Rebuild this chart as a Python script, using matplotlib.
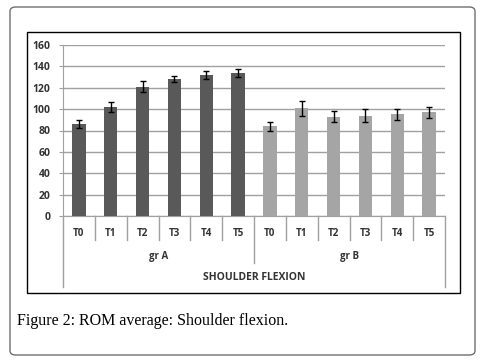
import matplotlib.pyplot as plt
import numpy as np
from matplotlib.patches import FancyBboxPatch, Rectangle

# data
times = ["T0", "T1", "T2", "T3", "T4", "T5"]
groups = ["gr A", "gr B"]
mean_a = [86, 102, 121, 128, 132, 134]
err_a = [4, 5, 5, 3, 4, 4]
mean_b = [84, 101, 93, 94, 95, 97]
err_b = [4, 7, 5, 6, 5, 5]
yticks = [0, 20, 40, 60, 80, 100, 120, 140, 160]

W, H = 482, 360
fig = plt.figure(figsize=(W / 100, H / 100), dpi=100)


def fx(px):
    return px / W


def fy(py):
    return 1 - py / H


# outer rounded frame
fig.patches.append(FancyBboxPatch((fx(10), fy(355)), fx(465), 348 / H,
                                  boxstyle="round,pad=0,rounding_size=0.012",
                                  transform=fig.transFigure, fill=False,
                                  edgecolor="#6e6e6e", linewidth=1.0))
# chart border
fig.patches.append(Rectangle((fx(27), fy(293)), fx(433), 261 / H,
                             transform=fig.transFigure, fill=False,
                             edgecolor="black", linewidth=1.0))

left, right, top, bottom = 63, 445, 45, 216
ax = fig.add_axes([fx(left), fy(bottom), fx(right - left), (bottom - top) / H])

n = len(times)
x_a = np.arange(n)
x_b = np.arange(n) + n
ax.bar(x_a, mean_a, width=0.42, color="#595959", zorder=3)
ax.bar(x_b, mean_b, width=0.42, color="#a5a5a5", zorder=3)
ax.errorbar(x_a, mean_a, yerr=err_a, fmt="none", ecolor="black",
            elinewidth=1, capsize=2.5, capthick=1, zorder=4)
ax.errorbar(x_b, mean_b, yerr=err_b, fmt="none", ecolor="black",
            elinewidth=1, capsize=2.5, capthick=1, zorder=4)

ax.set_xlim(-0.5, 2 * n - 0.5)
ax.set_ylim(0, 160)
ax.set_yticks(yticks)
ax.yaxis.grid(True, color="#a0a0a0", linewidth=1.0, zorder=0)
ax.set_xticks([])
for s in ["top", "right"]:
    ax.spines[s].set_visible(False)
ax.spines["left"].set_color("#a0a0a0")
ax.spines["bottom"].set_color("#a0a0a0")
ax.tick_params(axis="y", length=3, color="#a0a0a0", pad=6,
               labelsize=7.5, labelcolor="#333333")
for lab in ax.get_yticklabels():
    lab.set_fontweight("bold")
    lab.set_family("Open Sans")

sh = bottom - top
tr = ax.get_xaxis_transform()


def ay(py):
    return -(py - bottom) / sh


lc = "#a0a0a0"
font = dict(family="Open Sans", fontweight="bold", color="#333333",
            ha="center", va="center")
# category separators
for i in range(2 * n + 1):
    xb = i - 0.5
    if i == 0 or i == 2 * n:
        y1 = 287
    elif i == n:
        y1 = 263
    else:
        y1 = 240
    ax.plot([xb, xb], [0, ay(y1)], color=lc, lw=1, transform=tr, clip_on=False)

labels = times + times
for i, t in enumerate(labels):
    ax.text(i, ay(233), t, transform=tr, fontsize=7, **font)
for g, name in enumerate(groups):
    ax.text(g * n + (n - 1) / 2, ay(256), name, transform=tr, fontsize=7, **font)
ax.text(n - 0.5, ay(278), "SHOULDER FLEXION", transform=tr, fontsize=7.5, **font)

# caption
fig.text(fx(17), fy(321), "Figure 2: ROM average: Shoulder flexion.",
         family="Liberation Serif", fontsize=11.5, va="center", ha="left")

fig.savefig("out.png", dpi=100)
